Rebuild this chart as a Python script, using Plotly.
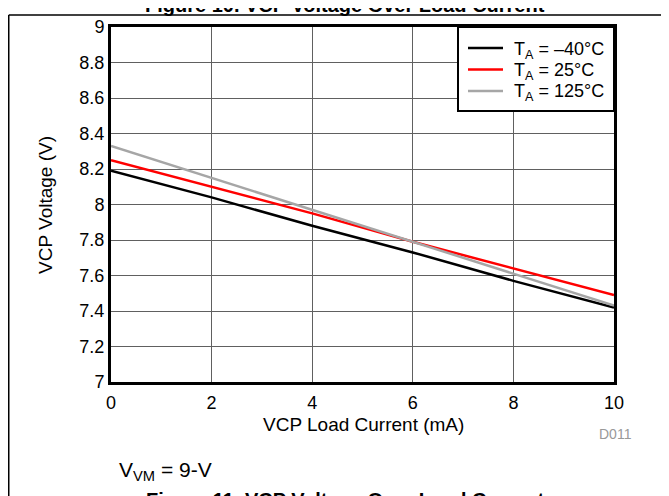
import plotly.graph_objects as go

load_current = [0, 2, 4, 6, 8, 10]
v_m40 = [8.19, 8.04, 7.88, 7.73, 7.57, 7.42]
v_25 = [8.25, 8.10, 7.95, 7.79, 7.64, 7.49]
v_125 = [8.33, 8.15, 7.97, 7.79, 7.61, 7.43]

series_names = ["T<sub>A</sub> = \u201340\u00b0C", "T<sub>A</sub> = 25\u00b0C", "T<sub>A</sub> = 125\u00b0C"]
series_colors = ["#000000", "#ff0000", "#a6a6a6"]
series_values = [v_m40, v_25, v_125]

FONT = "Liberation Sans, Arial, sans-serif"

fig = go.Figure()
for name, color, vals in zip(series_names, series_colors, series_values):
    fig.add_trace(go.Scatter(x=load_current, y=vals, mode="lines", name=name,
                             line=dict(color=color, width=2.5), showlegend=False))

# page has an 8px body margin; work in reference pixel coords and shift
OFF = 8
W, H = 669 - OFF, 496 - OFF
L, R, T, B = 111, 614, 27, 382   # plot area in reference pixels

def px_x(p):
    return (p - L) / (R - L)

def px_y(p):
    return (B - p) / (B - T)

fig.update_layout(
    width=W, height=H,
    margin=dict(l=L - OFF, r=W - (R - OFF), t=T - OFF, b=H - (B - OFF), autoexpand=False),
    paper_bgcolor="white", plot_bgcolor="white",
    font=dict(family=FONT, size=17, color="black"),
    showlegend=False,
    xaxis=dict(range=[0, 10], dtick=2, tick0=0, showgrid=True, gridcolor="#606060", gridwidth=1,
               showline=True, linecolor="black", linewidth=3, mirror=True,
               zeroline=False, ticks="", ticklabelstandoff=2,
               tickfont=dict(size=18)),
    yaxis=dict(range=[7, 9], dtick=0.2, tick0=7, showgrid=True, gridcolor="#606060", gridwidth=1,
               showline=True, linecolor="black", linewidth=3, mirror=True,
               zeroline=False, ticks="", ticklabelstandoff=0,
               tickfont=dict(size=18), tickformat="~g"),
)

annotations = [
    dict(text="VCP Voltage (V)", x=px_x(45), y=px_y(205), textangle=-90, showarrow=False,
         xref="paper", yref="paper", xanchor="center", yanchor="middle", font=dict(size=19)),
    dict(text="VCP Load Current (mA)", x=px_x(363), y=px_y(424), showarrow=False,
         xref="paper", yref="paper", xanchor="center", yanchor="middle", font=dict(size=19)),
    dict(text="D011", x=px_x(615), y=px_y(434), showarrow=False,
         xref="paper", yref="paper", xanchor="center", yanchor="middle",
         font=dict(size=14, color="#999999")),
    dict(text="V<sub>VM</sub> = 9-V", x=px_x(117), y=px_y(471), showarrow=False,
         xref="paper", yref="paper", xanchor="left", yanchor="middle", font=dict(size=21)),
    dict(text="<b>Figure 10. VCP Voltage Over Load Current</b>", x=px_x(345), y=px_y(5),
         showarrow=False, xref="paper", yref="paper", xanchor="center", yanchor="middle",
         font=dict(size=20)),
    dict(text="<b>Figure 11. VCP Voltage Over Load Current</b>", x=px_x(345), y=px_y(487),
         showarrow=False, xref="paper", yref="paper", xanchor="center", yanchor="top",
         font=dict(size=20)),
]

# legend drawn as a boxed key in the top-right corner of the plot
LEG_L, LEG_R, LEG_T, LEG_B = 458, 614, 27, 111
ROW0, ROW_STEP = 48, 21.5
shapes = [dict(type="rect", xref="paper", yref="paper", layer="above",
               x0=px_x(LEG_L), x1=px_x(LEG_R), y0=px_y(LEG_B), y1=px_y(LEG_T),
               fillcolor="white", line=dict(color="black", width=2))]
for i, (name, color) in enumerate(zip(series_names, series_colors)):
    ry = ROW0 + i * ROW_STEP
    shapes.append(dict(type="line", xref="paper", yref="paper", layer="above",
                       x0=px_x(468), x1=px_x(503), y0=px_y(ry), y1=px_y(ry),
                       line=dict(color=color, width=2.5)))
    annotations.append(dict(text=name, x=px_x(512), y=px_y(ry + 2), showarrow=False,
                            xref="paper", yref="paper", xanchor="left", yanchor="middle",
                            font=dict(size=18)))

shapes.append(dict(type="line", xref="paper", yref="paper", x0=px_x(OFF + 0.75), x1=px_x(669),
                   y0=px_y(15), y1=px_y(15), line=dict(color="black", width=1.5)))
shapes.append(dict(type="line", xref="paper", yref="paper", x0=px_x(OFF + 0.75), x1=px_x(OFF + 0.75),
                   y0=px_y(15), y1=px_y(500), line=dict(color="black", width=1.5)))

fig.update_layout(annotations=annotations, shapes=shapes)

fig.write_html("out.html")
